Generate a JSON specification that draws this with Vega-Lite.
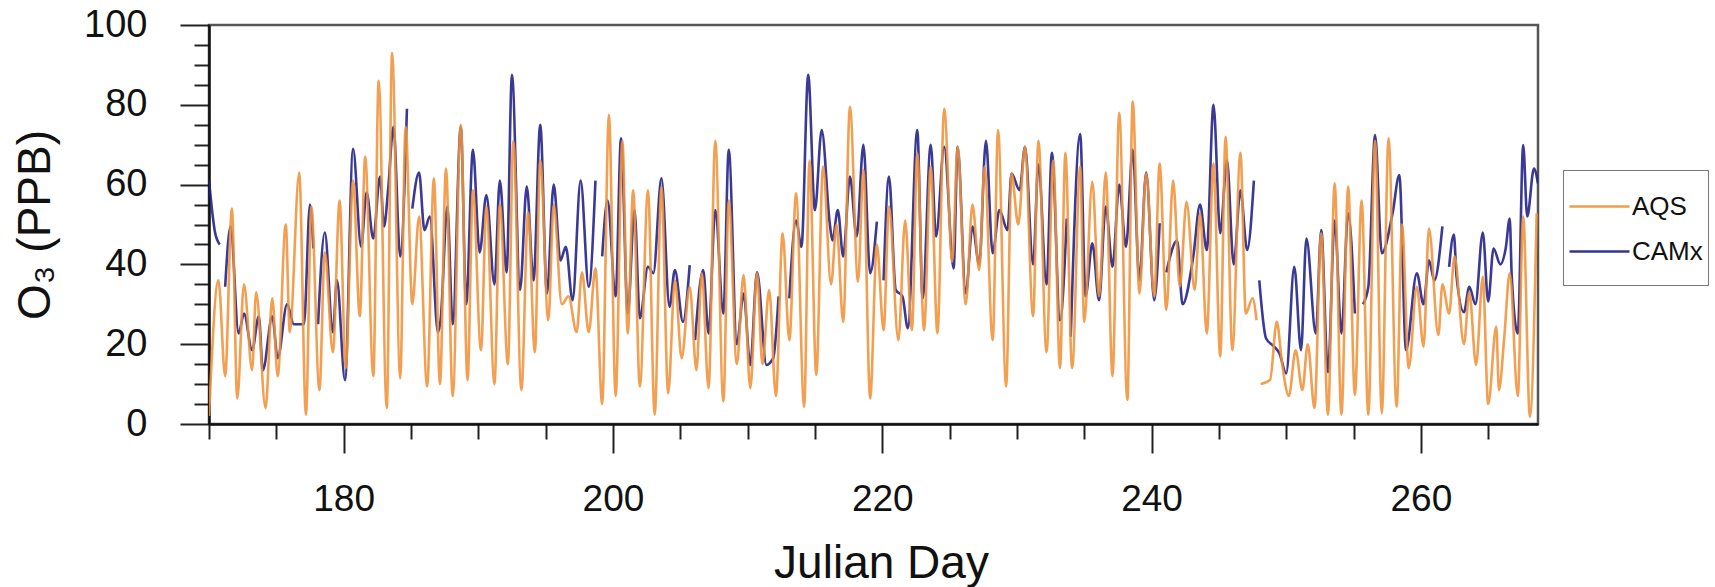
{
"$schema": "https://vega.github.io/schema/vega-lite/v6.json",
"width": 1329, "height": 399,
"autosize": {"type": "none"},
"padding": {"left": 209, "top": 25, "right": 177, "bottom": 163},
"background": "white",
"config": {"view": {"stroke": "#555555", "strokeWidth": 2.5}, "font": "Liberation Sans"},
"data": {"values": [
{"day":170.0,"o3":61,"src":"CAMx"},{"day":170.45,"o3":48,"src":"CAMx"},{"day":170.8,"o3":45,"src":"CAMx"},{"day":171.0,"o3":null,"src":"CAMx"},
{"day":171.2,"o3":34.4,"src":"CAMx"},{"day":171.6,"o3":49.5,"src":"CAMx"},{"day":172.2,"o3":22.7,"src":"CAMx"},{"day":172.6,"o3":27.7,"src":"CAMx"},
{"day":173.2,"o3":18.5,"src":"CAMx"},{"day":173.7,"o3":27,"src":"CAMx"},{"day":174.0,"o3":13.5,"src":"CAMx"},{"day":174.7,"o3":27,"src":"CAMx"},
{"day":175.1,"o3":16.5,"src":"CAMx"},{"day":175.8,"o3":30,"src":"CAMx"},{"day":176.3,"o3":25,"src":"CAMx"},{"day":177.05,"o3":25,"src":"CAMx"},
{"day":177.5,"o3":55,"src":"CAMx"},{"day":177.75,"o3":44,"src":"CAMx"},{"day":177.9,"o3":null,"src":"CAMx"},{"day":178.1,"o3":25,"src":"CAMx"},
{"day":178.6,"o3":48,"src":"CAMx"},{"day":179.2,"o3":23,"src":"CAMx"},{"day":179.5,"o3":36,"src":"CAMx"},{"day":180.1,"o3":11,"src":"CAMx"},
{"day":180.7,"o3":69,"src":"CAMx"},{"day":181.3,"o3":44.4,"src":"CAMx"},{"day":181.7,"o3":58,"src":"CAMx"},{"day":182.2,"o3":46.5,"src":"CAMx"},
{"day":182.7,"o3":62,"src":"CAMx"},{"day":183.0,"o3":49.5,"src":"CAMx"},{"day":183.3,"o3":58.6,"src":"CAMx"},{"day":183.7,"o3":74.5,"src":"CAMx"},
{"day":184.2,"o3":42,"src":"CAMx"},{"day":184.7,"o3":79,"src":"CAMx"},{"day":184.9,"o3":null,"src":"CAMx"},{"day":185.1,"o3":54,"src":"CAMx"},
{"day":185.6,"o3":63,"src":"CAMx"},{"day":186.0,"o3":48.6,"src":"CAMx"},{"day":186.4,"o3":52,"src":"CAMx"},{"day":187.0,"o3":23,"src":"CAMx"},
{"day":187.2,"o3":26,"src":"CAMx"},{"day":187.7,"o3":54.5,"src":"CAMx"},{"day":188.1,"o3":25,"src":"CAMx"},{"day":188.7,"o3":74.5,"src":"CAMx"},
{"day":189.1,"o3":30,"src":"CAMx"},{"day":189.6,"o3":68.7,"src":"CAMx"},{"day":190.1,"o3":43,"src":"CAMx"},{"day":190.6,"o3":57.4,"src":"CAMx"},
{"day":191.2,"o3":35,"src":"CAMx"},{"day":191.6,"o3":61,"src":"CAMx"},{"day":192.1,"o3":38,"src":"CAMx"},{"day":192.5,"o3":87.5,"src":"CAMx"},
{"day":193.1,"o3":33.6,"src":"CAMx"},{"day":193.6,"o3":59.5,"src":"CAMx"},{"day":194.1,"o3":36,"src":"CAMx"},{"day":194.6,"o3":75,"src":"CAMx"},
{"day":195.1,"o3":32.7,"src":"CAMx"},{"day":195.6,"o3":60,"src":"CAMx"},{"day":196.1,"o3":41,"src":"CAMx"},{"day":196.5,"o3":44.4,"src":"CAMx"},
{"day":197.0,"o3":31,"src":"CAMx"},{"day":197.6,"o3":61,"src":"CAMx"},{"day":198.2,"o3":34.4,"src":"CAMx"},{"day":198.7,"o3":61,"src":"CAMx"},
{"day":198.95,"o3":null,"src":"CAMx"},{"day":199.2,"o3":42,"src":"CAMx"},{"day":199.6,"o3":56,"src":"CAMx"},{"day":200.2,"o3":32,"src":"CAMx"},
{"day":200.6,"o3":71.6,"src":"CAMx"},{"day":201.1,"o3":27.7,"src":"CAMx"},{"day":201.6,"o3":53.6,"src":"CAMx"},{"day":202.0,"o3":26.5,"src":"CAMx"},
{"day":202.6,"o3":39.4,"src":"CAMx"},{"day":203.0,"o3":37.8,"src":"CAMx"},{"day":203.6,"o3":61.6,"src":"CAMx"},{"day":204.2,"o3":29.4,"src":"CAMx"},
{"day":204.6,"o3":38.6,"src":"CAMx"},{"day":205.2,"o3":25.6,"src":"CAMx"},{"day":205.7,"o3":39.8,"src":"CAMx"},{"day":205.9,"o3":null,"src":"CAMx"},
{"day":206.1,"o3":21,"src":"CAMx"},{"day":206.7,"o3":38.6,"src":"CAMx"},{"day":207.1,"o3":22.7,"src":"CAMx"},{"day":207.6,"o3":53.6,"src":"CAMx"},
{"day":208.2,"o3":27.7,"src":"CAMx"},{"day":208.6,"o3":68.7,"src":"CAMx"},{"day":209.2,"o3":20,"src":"CAMx"},{"day":209.7,"o3":32.7,"src":"CAMx"},
{"day":210.2,"o3":14.8,"src":"CAMx"},{"day":210.7,"o3":38,"src":"CAMx"},{"day":211.4,"o3":14.8,"src":"CAMx"},{"day":211.9,"o3":16.5,"src":"CAMx"},
{"day":212.3,"o3":32,"src":"CAMx"},{"day":212.7,"o3":null,"src":"CAMx"},{"day":213.1,"o3":31.5,"src":"CAMx"},{"day":213.6,"o3":51,"src":"CAMx"},
{"day":214.0,"o3":44.4,"src":"CAMx"},{"day":214.5,"o3":87.5,"src":"CAMx"},{"day":215.0,"o3":53.6,"src":"CAMx"},{"day":215.5,"o3":73.7,"src":"CAMx"},
{"day":216.1,"o3":50.3,"src":"CAMx"},{"day":216.3,"o3":46,"src":"CAMx"},{"day":216.7,"o3":53.6,"src":"CAMx"},{"day":217.1,"o3":42,"src":"CAMx"},
{"day":217.6,"o3":62,"src":"CAMx"},{"day":218.1,"o3":47,"src":"CAMx"},{"day":218.6,"o3":70,"src":"CAMx"},{"day":219.1,"o3":37.8,"src":"CAMx"},
{"day":219.6,"o3":50.7,"src":"CAMx"},{"day":219.85,"o3":null,"src":"CAMx"},{"day":220.1,"o3":36,"src":"CAMx"},{"day":220.5,"o3":62,"src":"CAMx"},
{"day":221.0,"o3":33.6,"src":"CAMx"},{"day":221.5,"o3":32,"src":"CAMx"},{"day":221.9,"o3":24,"src":"CAMx"},{"day":222.6,"o3":73.7,"src":"CAMx"},
{"day":223.0,"o3":31.5,"src":"CAMx"},{"day":223.6,"o3":70,"src":"CAMx"},{"day":224.0,"o3":47,"src":"CAMx"},{"day":224.6,"o3":69.5,"src":"CAMx"},
{"day":225.3,"o3":39,"src":"CAMx"},{"day":225.6,"o3":69.5,"src":"CAMx"},{"day":226.2,"o3":32.7,"src":"CAMx"},{"day":226.7,"o3":49.5,"src":"CAMx"},
{"day":227.2,"o3":40,"src":"CAMx"},{"day":227.7,"o3":71,"src":"CAMx"},{"day":228.2,"o3":42.8,"src":"CAMx"},{"day":228.7,"o3":53.6,"src":"CAMx"},
{"day":229.3,"o3":48.6,"src":"CAMx"},{"day":229.6,"o3":62.8,"src":"CAMx"},{"day":230.2,"o3":58.6,"src":"CAMx"},{"day":230.6,"o3":69.5,"src":"CAMx"},
{"day":231.2,"o3":40,"src":"CAMx"},{"day":231.6,"o3":65,"src":"CAMx"},{"day":232.2,"o3":35,"src":"CAMx"},{"day":232.6,"o3":68,"src":"CAMx"},
{"day":233.2,"o3":26,"src":"CAMx"},{"day":233.7,"o3":51.5,"src":"CAMx"},{"day":233.85,"o3":null,"src":"CAMx"},{"day":234.0,"o3":21.9,"src":"CAMx"},
{"day":234.7,"o3":72.7,"src":"CAMx"},{"day":235.1,"o3":32,"src":"CAMx"},{"day":235.6,"o3":45.3,"src":"CAMx"},{"day":236.1,"o3":31,"src":"CAMx"},
{"day":236.6,"o3":54.5,"src":"CAMx"},{"day":237.1,"o3":39.4,"src":"CAMx"},{"day":237.6,"o3":60,"src":"CAMx"},{"day":238.1,"o3":44.4,"src":"CAMx"},
{"day":238.6,"o3":68.7,"src":"CAMx"},{"day":239.1,"o3":36,"src":"CAMx"},{"day":239.6,"o3":63,"src":"CAMx"},{"day":240.2,"o3":31,"src":"CAMx"},
{"day":240.6,"o3":50.3,"src":"CAMx"},{"day":240.85,"o3":null,"src":"CAMx"},{"day":241.1,"o3":38,"src":"CAMx"},{"day":241.9,"o3":46,"src":"CAMx"},
{"day":242.3,"o3":30,"src":"CAMx"},{"day":243.1,"o3":42,"src":"CAMx"},{"day":243.6,"o3":55,"src":"CAMx"},{"day":244.1,"o3":43.6,"src":"CAMx"},
{"day":244.6,"o3":80,"src":"CAMx"},{"day":245.1,"o3":47.8,"src":"CAMx"},{"day":245.6,"o3":66,"src":"CAMx"},{"day":246.1,"o3":40,"src":"CAMx"},
{"day":246.6,"o3":58.6,"src":"CAMx"},{"day":247.1,"o3":43.6,"src":"CAMx"},{"day":247.6,"o3":61,"src":"CAMx"},{"day":247.8,"o3":null,"src":"CAMx"},
{"day":248.0,"o3":36,"src":"CAMx"},{"day":248.5,"o3":21.5,"src":"CAMx"},{"day":249.1,"o3":19.4,"src":"CAMx"},{"day":249.5,"o3":17.7,"src":"CAMx"},
{"day":250.0,"o3":12.7,"src":"CAMx"},{"day":250.6,"o3":39.4,"src":"CAMx"},{"day":251.1,"o3":18.5,"src":"CAMx"},{"day":251.5,"o3":46.5,"src":"CAMx"},
{"day":252.2,"o3":22.7,"src":"CAMx"},{"day":252.6,"o3":48.6,"src":"CAMx"},{"day":253.1,"o3":13,"src":"CAMx"},{"day":253.6,"o3":51,"src":"CAMx"},
{"day":254.1,"o3":22.7,"src":"CAMx"},{"day":254.6,"o3":52.8,"src":"CAMx"},{"day":255.1,"o3":27.7,"src":"CAMx"},{"day":255.4,"o3":null,"src":"CAMx"},
{"day":255.7,"o3":30,"src":"CAMx"},{"day":256.1,"o3":34.4,"src":"CAMx"},{"day":256.6,"o3":72.4,"src":"CAMx"},{"day":257.1,"o3":42.8,"src":"CAMx"},
{"day":257.9,"o3":52.8,"src":"CAMx"},{"day":258.4,"o3":62.4,"src":"CAMx"},{"day":258.9,"o3":18.5,"src":"CAMx"},{"day":259.7,"o3":37.8,"src":"CAMx"},
{"day":260.2,"o3":30,"src":"CAMx"},{"day":260.6,"o3":41,"src":"CAMx"},{"day":261.0,"o3":36,"src":"CAMx"},{"day":261.6,"o3":49.5,"src":"CAMx"},
{"day":261.85,"o3":null,"src":"CAMx"},{"day":262.1,"o3":39.4,"src":"CAMx"},{"day":262.45,"o3":47.5,"src":"CAMx"},{"day":262.65,"o3":37,"src":"CAMx"},
{"day":263.2,"o3":28,"src":"CAMx"},{"day":263.6,"o3":34.4,"src":"CAMx"},{"day":264.05,"o3":30,"src":"CAMx"},{"day":264.6,"o3":48,"src":"CAMx"},
{"day":265.0,"o3":30.7,"src":"CAMx"},{"day":265.4,"o3":44,"src":"CAMx"},{"day":265.9,"o3":40,"src":"CAMx"},{"day":266.3,"o3":44,"src":"CAMx"},
{"day":266.6,"o3":51.5,"src":"CAMx"},{"day":266.75,"o3":37,"src":"CAMx"},{"day":267.2,"o3":22.7,"src":"CAMx"},{"day":267.6,"o3":69.9,"src":"CAMx"},
{"day":267.9,"o3":52,"src":"CAMx"},{"day":268.4,"o3":64,"src":"CAMx"},{"day":268.7,"o3":60.3,"src":"CAMx"},
{"day":170.0,"o3":2,"src":"AQS"},{"day":170.7,"o3":36,"src":"AQS"},{"day":171.2,"o3":12,"src":"AQS"},{"day":171.7,"o3":54,"src":"AQS"},
{"day":172.1,"o3":6.4,"src":"AQS"},{"day":172.6,"o3":35,"src":"AQS"},{"day":173.2,"o3":13.5,"src":"AQS"},{"day":173.5,"o3":33,"src":"AQS"},
{"day":174.2,"o3":4,"src":"AQS"},{"day":174.7,"o3":31.5,"src":"AQS"},{"day":175.1,"o3":12,"src":"AQS"},{"day":175.7,"o3":50,"src":"AQS"},
{"day":176.0,"o3":23,"src":"AQS"},{"day":176.7,"o3":63,"src":"AQS"},{"day":177.2,"o3":2.3,"src":"AQS"},{"day":177.6,"o3":54.5,"src":"AQS"},
{"day":178.2,"o3":8.5,"src":"AQS"},{"day":178.6,"o3":43,"src":"AQS"},{"day":179.2,"o3":18,"src":"AQS"},{"day":179.7,"o3":56,"src":"AQS"},
{"day":180.15,"o3":14,"src":"AQS"},{"day":180.7,"o3":61,"src":"AQS"},{"day":181.2,"o3":27,"src":"AQS"},{"day":181.6,"o3":67,"src":"AQS"},
{"day":182.2,"o3":12,"src":"AQS"},{"day":182.6,"o3":86,"src":"AQS"},{"day":183.2,"o3":4,"src":"AQS"},{"day":183.6,"o3":93,"src":"AQS"},
{"day":184.2,"o3":11.5,"src":"AQS"},{"day":184.6,"o3":74.5,"src":"AQS"},{"day":185.1,"o3":30,"src":"AQS"},{"day":185.6,"o3":52,"src":"AQS"},
{"day":186.2,"o3":9.4,"src":"AQS"},{"day":186.7,"o3":61.6,"src":"AQS"},{"day":187.15,"o3":10,"src":"AQS"},{"day":187.6,"o3":64,"src":"AQS"},
{"day":188.1,"o3":7,"src":"AQS"},{"day":188.7,"o3":75,"src":"AQS"},{"day":189.2,"o3":11,"src":"AQS"},{"day":189.6,"o3":58.6,"src":"AQS"},
{"day":190.2,"o3":18.5,"src":"AQS"},{"day":190.6,"o3":54.5,"src":"AQS"},{"day":191.2,"o3":10,"src":"AQS"},{"day":191.6,"o3":55,"src":"AQS"},
{"day":192.2,"o3":15,"src":"AQS"},{"day":192.6,"o3":71,"src":"AQS"},{"day":193.2,"o3":8.5,"src":"AQS"},{"day":193.7,"o3":53,"src":"AQS"},
{"day":194.2,"o3":18,"src":"AQS"},{"day":194.6,"o3":66,"src":"AQS"},{"day":195.2,"o3":26,"src":"AQS"},{"day":195.6,"o3":55,"src":"AQS"},
{"day":196.2,"o3":30,"src":"AQS"},{"day":196.7,"o3":32,"src":"AQS"},{"day":197.3,"o3":23,"src":"AQS"},{"day":197.7,"o3":38,"src":"AQS"},
{"day":198.2,"o3":23,"src":"AQS"},{"day":198.7,"o3":39,"src":"AQS"},{"day":199.2,"o3":5,"src":"AQS"},{"day":199.7,"o3":77.5,"src":"AQS"},
{"day":200.2,"o3":7,"src":"AQS"},{"day":200.7,"o3":71,"src":"AQS"},{"day":201.1,"o3":22.7,"src":"AQS"},{"day":201.5,"o3":58.6,"src":"AQS"},
{"day":202.0,"o3":9.4,"src":"AQS"},{"day":202.6,"o3":58.6,"src":"AQS"},{"day":203.1,"o3":2.3,"src":"AQS"},{"day":203.6,"o3":59.5,"src":"AQS"},
{"day":204.1,"o3":7.7,"src":"AQS"},{"day":204.6,"o3":36,"src":"AQS"},{"day":205.1,"o3":16.5,"src":"AQS"},{"day":205.7,"o3":34.4,"src":"AQS"},
{"day":206.2,"o3":13.5,"src":"AQS"},{"day":206.6,"o3":37.8,"src":"AQS"},{"day":207.1,"o3":9,"src":"AQS"},{"day":207.6,"o3":71,"src":"AQS"},
{"day":208.2,"o3":5.6,"src":"AQS"},{"day":208.6,"o3":56,"src":"AQS"},{"day":209.2,"o3":15,"src":"AQS"},{"day":209.7,"o3":37.3,"src":"AQS"},
{"day":210.2,"o3":9,"src":"AQS"},{"day":210.7,"o3":37.8,"src":"AQS"},{"day":211.1,"o3":15,"src":"AQS"},{"day":211.6,"o3":33.6,"src":"AQS"},
{"day":212.1,"o3":7,"src":"AQS"},{"day":212.6,"o3":47.8,"src":"AQS"},{"day":213.1,"o3":21,"src":"AQS"},{"day":213.6,"o3":57.8,"src":"AQS"},
{"day":214.2,"o3":4.3,"src":"AQS"},{"day":214.6,"o3":66,"src":"AQS"},{"day":215.1,"o3":12.3,"src":"AQS"},{"day":215.6,"o3":64.5,"src":"AQS"},
{"day":216.2,"o3":35,"src":"AQS"},{"day":216.6,"o3":50,"src":"AQS"},{"day":217.1,"o3":25.6,"src":"AQS"},{"day":217.6,"o3":79.5,"src":"AQS"},
{"day":218.2,"o3":35.7,"src":"AQS"},{"day":218.6,"o3":63.7,"src":"AQS"},{"day":219.1,"o3":6.4,"src":"AQS"},{"day":219.6,"o3":45,"src":"AQS"},
{"day":220.1,"o3":23.5,"src":"AQS"},{"day":220.5,"o3":54.5,"src":"AQS"},{"day":221.2,"o3":21,"src":"AQS"},{"day":221.7,"o3":51,"src":"AQS"},
{"day":222.2,"o3":23.5,"src":"AQS"},{"day":222.6,"o3":67.8,"src":"AQS"},{"day":223.1,"o3":23.5,"src":"AQS"},{"day":223.6,"o3":64.5,"src":"AQS"},
{"day":224.1,"o3":22.7,"src":"AQS"},{"day":224.6,"o3":79,"src":"AQS"},{"day":225.2,"o3":40.7,"src":"AQS"},{"day":225.6,"o3":69.5,"src":"AQS"},
{"day":226.2,"o3":30,"src":"AQS"},{"day":226.7,"o3":55,"src":"AQS"},{"day":227.2,"o3":38.6,"src":"AQS"},{"day":227.6,"o3":64.5,"src":"AQS"},
{"day":228.2,"o3":21,"src":"AQS"},{"day":228.6,"o3":73.7,"src":"AQS"},{"day":229.2,"o3":9.4,"src":"AQS"},{"day":229.6,"o3":62.8,"src":"AQS"},
{"day":230.1,"o3":50,"src":"AQS"},{"day":230.6,"o3":69.5,"src":"AQS"},{"day":231.2,"o3":27,"src":"AQS"},{"day":231.6,"o3":71,"src":"AQS"},
{"day":232.2,"o3":18,"src":"AQS"},{"day":232.7,"o3":66,"src":"AQS"},{"day":233.2,"o3":14,"src":"AQS"},{"day":233.6,"o3":68,"src":"AQS"},
{"day":234.1,"o3":14,"src":"AQS"},{"day":234.7,"o3":64.5,"src":"AQS"},{"day":235.0,"o3":25.6,"src":"AQS"},{"day":235.6,"o3":60.7,"src":"AQS"},
{"day":236.1,"o3":32,"src":"AQS"},{"day":236.6,"o3":63,"src":"AQS"},{"day":237.1,"o3":12,"src":"AQS"},{"day":237.6,"o3":78,"src":"AQS"},
{"day":238.2,"o3":6,"src":"AQS"},{"day":238.6,"o3":80.8,"src":"AQS"},{"day":239.1,"o3":32.7,"src":"AQS"},{"day":239.6,"o3":62.8,"src":"AQS"},
{"day":240.2,"o3":32,"src":"AQS"},{"day":240.6,"o3":65.3,"src":"AQS"},{"day":241.1,"o3":28.6,"src":"AQS"},{"day":241.6,"o3":61,"src":"AQS"},
{"day":242.1,"o3":34.4,"src":"AQS"},{"day":242.6,"o3":55.7,"src":"AQS"},{"day":243.2,"o3":33.6,"src":"AQS"},{"day":243.6,"o3":52.8,"src":"AQS"},
{"day":244.1,"o3":22.7,"src":"AQS"},{"day":244.6,"o3":65.3,"src":"AQS"},{"day":245.1,"o3":16.9,"src":"AQS"},{"day":245.5,"o3":72,"src":"AQS"},
{"day":246.0,"o3":18.5,"src":"AQS"},{"day":246.6,"o3":68,"src":"AQS"},{"day":247.0,"o3":27.7,"src":"AQS"},{"day":247.5,"o3":31.5,"src":"AQS"},
{"day":247.8,"o3":26,"src":"AQS"},{"day":247.95,"o3":null,"src":"AQS"},{"day":248.1,"o3":10,"src":"AQS"},{"day":248.8,"o3":11,"src":"AQS"},
{"day":249.3,"o3":25.6,"src":"AQS"},{"day":249.7,"o3":15,"src":"AQS"},{"day":250.2,"o3":7,"src":"AQS"},{"day":250.7,"o3":18.5,"src":"AQS"},
{"day":251.2,"o3":8.5,"src":"AQS"},{"day":251.6,"o3":20,"src":"AQS"},{"day":252.1,"o3":4,"src":"AQS"},{"day":252.6,"o3":47.8,"src":"AQS"},
{"day":253.1,"o3":2.3,"src":"AQS"},{"day":253.6,"o3":60.3,"src":"AQS"},{"day":254.1,"o3":2.3,"src":"AQS"},{"day":254.6,"o3":59.5,"src":"AQS"},
{"day":255.1,"o3":7.3,"src":"AQS"},{"day":255.6,"o3":56,"src":"AQS"},{"day":256.1,"o3":2.3,"src":"AQS"},{"day":256.6,"o3":71,"src":"AQS"},
{"day":257.1,"o3":2.7,"src":"AQS"},{"day":257.6,"o3":71.6,"src":"AQS"},{"day":258.2,"o3":4.3,"src":"AQS"},{"day":258.6,"o3":50,"src":"AQS"},
{"day":259.1,"o3":14,"src":"AQS"},{"day":259.7,"o3":34.4,"src":"AQS"},{"day":260.2,"o3":19.4,"src":"AQS"},{"day":260.6,"o3":49,"src":"AQS"},
{"day":261.3,"o3":22.3,"src":"AQS"},{"day":261.6,"o3":35,"src":"AQS"},{"day":262.1,"o3":27.7,"src":"AQS"},{"day":262.5,"o3":42,"src":"AQS"},
{"day":263.2,"o3":20,"src":"AQS"},{"day":263.6,"o3":33,"src":"AQS"},{"day":264.1,"o3":14.8,"src":"AQS"},{"day":264.6,"o3":36.9,"src":"AQS"},
{"day":265.0,"o3":5,"src":"AQS"},{"day":265.6,"o3":24.4,"src":"AQS"},{"day":265.8,"o3":8.5,"src":"AQS"},{"day":266.2,"o3":22,"src":"AQS"},
{"day":266.6,"o3":37.8,"src":"AQS"},{"day":267.2,"o3":7,"src":"AQS"},{"day":267.6,"o3":52,"src":"AQS"},{"day":268.1,"o3":1.8,"src":"AQS"},
{"day":268.6,"o3":52.8,"src":"AQS"}
]},
"mark": {"type": "line", "interpolate": "monotone", "strokeWidth": 2.6, "opacity": 0.88, "invalid": "break-paths-show-domains", "clip": true},
"encoding": {
  "x": {"field": "day", "type": "quantitative",
    "scale": {"domain": [170, 268.7], "nice": false, "zero": false},
    "axis": {"values": [170,175,180,185,190,195,200,205,210,215,220,225,230,235,240,245,250,255,260,265],
      "labelExpr": "datum.value % 20 === 0 ? datum.label : ''",
      "tickSize": {"condition": {"test": "datum.value % 20 === 0", "value": 29}, "value": 15},
      "tickColor": "#222222", "tickWidth": 2, "domainColor": "#111111", "domainWidth": 2.5,
      "labelFontSize": 37, "labelColor": "#111111", "labelPadding": 28, "labelFont": "Liberation Sans",
      "grid": false, "title": "Julian Day", "titleFontSize": 46, "titleFontWeight": "normal", "titleColor": "#111111",
      "titleFont": "Liberation Sans", "titleX": 672, "titleY": 153, "titleBaseline": "alphabetic", "titleAlign": "center"}},
  "y": {"field": "o3", "type": "quantitative",
    "scale": {"domain": [0, 100], "nice": false},
    "axis": {"values": [0,5,10,15,20,25,30,35,40,45,50,55,60,65,70,75,80,85,90,95,100],
      "labelExpr": "datum.value % 20 === 0 ? datum.label : ''",
      "tickSize": {"condition": {"test": "datum.value % 20 === 0", "value": 29}, "value": 15},
      "tickColor": "#222222", "tickWidth": 2, "domainColor": "#111111", "domainWidth": 2.5,
      "labelFontSize": 38, "labelColor": "#111111", "labelPadding": 33, "labelFont": "Liberation Sans",
      "grid": false, "title": "O₃ (PPB)", "titleFontSize": 46, "titleFontWeight": "normal", "titleColor": "#111111",
      "titleFont": "Liberation Sans", "titleX": -174, "titleY": 199.5, "titleAngle": -90, "titleAlign": "center", "titleBaseline": "middle"}},
  "color": {"field": "src", "type": "nominal",
    "scale": {"domain": ["AQS", "CAMx"], "range": ["#F0923A", "#1F1F87"]},
    "legend": {"orient": "none", "legendX": 1354, "legendY": 145, "title": " ", "titleOrient": "bottom",
      "titleFontSize": 12, "titlePadding": 4,
      "symbolType": "stroke", "symbolSize": 3600, "symbolStrokeWidth": 2.5, "symbolOpacity": 0.9,
      "labelFontSize": 26, "labelFont": "Liberation Sans", "labelColor": "#111111", "labelOffset": 1,
      "strokeColor": "#777777", "fillColor": "white", "padding": 5, "rowPadding": -12}}
}
}
